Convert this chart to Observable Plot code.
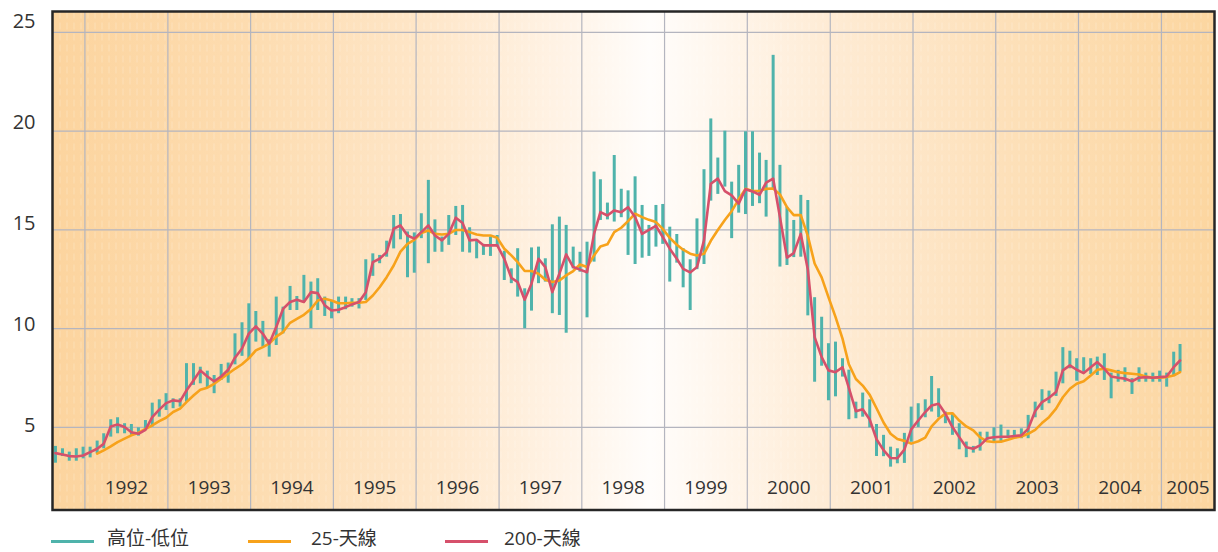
<!DOCTYPE html>
<html>
<head>
<meta charset="utf-8">
<script src="https://cdn.jsdelivr.net/npm/d3@7"></script>
<script src="https://cdn.jsdelivr.net/npm/@observablehq/plot@0.6"></script>
<style>
  html, body { margin: 0; padding: 0; background: #fff; }
  #wrap { position: relative; width: 1218px; height: 552px; font-family: "Open Sans", "Noto Sans", "Noto Sans CJK TC", sans-serif; color: #333; }
  #chart svg { display: block; }
  .sw { position: absolute; top: 540px; width: 43px; height: 3px; }
  .lt { position: absolute; top: 528px; height: 20px; font-size: 19px; line-height: 20px; white-space: nowrap; font-family: "Open Sans", "Noto Sans CJK TC", sans-serif; color: #333; }
</style>
</head>
<body>
<div id="wrap">
  <div id="chart"></div>
  <div class="sw" style="left:51px;background:#4fb3ab"></div><div class="lt" style="left:107px">高位-低位</div>
  <div class="sw" style="left:248px;background:#f7a21b"></div><div class="lt" style="left:311px">25-天線</div>
  <div class="sw" style="left:445px;background:#d6506b"></div><div class="lt" style="left:504px">200-天線</div>
</div>
<script>
// Monthly high / low (first bar Aug 1991, last bar Apr 2005)
const high = [4.04,3.92,3.75,3.92,4.0,4.0,4.31,4.68,5.39,5.49,5.19,5.15,4.98,5.35,6.23,6.40,6.71,6.45,6.45,8.23,
8.23,8.05,7.85,7.63,8.19,8.26,9.74,10.3,11.26,10.87,10.37,9.44,11.6,11.09,12.14,11.63,12.70,12.36,12.53,11.6,
11.43,11.6,11.6,11.52,11.52,13.49,13.79,13.71,14.43,15.73,15.78,14.9,14.85,15.82,17.51,15.51,14.64,15.73,16.19,16.24,
15.11,14.5,14.27,14.64,14.72,13.92,13.03,14.05,12.02,14.09,14.13,13.54,15.26,15.65,15.23,14.13,13.87,14.38,17.93,17.54,
16.36,18.77,17.06,16.98,17.69,16.24,15.23,16.24,16.29,15.14,14.77,14.05,13.49,15.56,18.05,20.62,18.64,20.0,17.42,18.27,
19.97,19.97,18.89,18.52,23.84,18.27,16.15,15.48,16.75,16.49,11.57,10.58,9.24,9.32,8.48,7.9,6.28,6.74,6.4,5.15,
4.6,4.0,3.92,4.7,6.03,6.2,6.4,7.58,6.96,5.78,5.66,5.19,4.26,4.04,4.76,4.76,4.98,5.12,4.86,4.85,
4.93,5.61,6.28,6.91,6.84,7.8,9.04,8.86,8.48,8.53,8.48,8.56,8.73,7.75,7.89,8.02,7.47,8.02,7.75,7.75,
7.85,7.75,8.81,9.2];
const low = [3.19,3.53,3.29,3.29,3.41,3.46,3.67,3.92,4.51,4.68,4.68,4.6,4.56,4.85,5.02,5.52,5.86,5.95,6.03,6.28,
7.13,7.21,7.0,6.71,7.38,7.24,8.17,8.6,8.45,9.32,9.07,8.56,9.15,9.74,10.92,10.92,11.35,10.0,10.92,10.62,
10.5,10.76,10.96,11.09,11.0,11.43,12.65,13.29,13.62,14.04,14.5,12.58,12.81,14.56,13.29,13.87,13.87,14.22,14.72,13.87,
13.83,13.54,13.71,13.66,14.13,12.44,12.28,11.6,10.0,10.89,12.28,12.36,10.76,10.67,9.77,13.03,12.86,10.55,13.37,15.48,
15.51,15.4,15.62,13.71,13.25,13.57,13.66,14.13,14.27,12.36,13.32,12.07,10.92,12.99,13.25,16.46,16.8,17.17,14.56,15.85,
15.78,16.19,16.33,15.65,17.08,13.12,13.2,13.6,13.62,10.65,7.29,8.1,6.35,6.55,7.55,5.39,5.44,5.52,4.98,3.53,
3.52,2.99,3.16,3.18,4.25,5.0,5.49,5.78,5.49,5.19,4.6,3.87,3.47,3.7,3.8,4.35,4.28,4.25,4.43,4.45,
4.43,4.43,5.49,5.86,6.2,6.57,7.21,7.97,7.34,7.8,7.68,7.63,7.38,6.45,7.29,7.29,6.67,7.29,7.29,7.29,
7.29,7.04,7.63,7.8];
// 25-天線 (orange)
const ma25 = [null,null,null,null,null,null,3.67,3.84,4.04,4.26,4.43,4.6,4.73,4.93,5.1,5.32,5.49,5.78,5.95,6.28,
6.62,6.91,7.01,7.21,7.47,7.72,7.97,8.2,8.5,8.9,9.07,9.24,9.6,9.83,10.3,10.5,10.7,11.0,11.43,11.52,
11.43,11.29,11.29,11.31,11.31,11.35,11.68,12.1,12.61,13.2,13.9,14.3,14.5,14.85,14.97,14.8,14.77,14.8,15.0,15.0,
14.89,14.77,14.72,14.72,14.6,14.05,13.71,13.37,12.92,12.92,12.78,12.48,12.36,12.44,12.7,12.92,13.25,13.12,13.71,14.16,
14.27,14.89,15.11,15.45,15.82,15.65,15.51,15.4,15.05,14.6,14.25,14.0,13.8,13.71,13.79,14.45,15.0,15.5,15.95,16.55,
17.08,16.97,16.97,17.08,17.1,16.8,16.15,15.75,15.75,14.7,13.3,12.6,11.6,10.6,9.5,8.2,7.45,7.12,6.65,5.97,
5.25,4.68,4.41,4.32,4.18,4.3,4.48,5.05,5.44,5.7,5.72,5.35,5.05,4.85,4.5,4.3,4.26,4.28,4.38,4.48,
4.54,4.68,4.88,5.22,5.52,5.95,6.53,6.96,7.21,7.34,7.63,7.92,7.97,7.89,7.8,7.75,7.72,7.68,7.58,7.52,
7.52,7.55,7.63,7.8];
// 200-天線 (red)
const ma200 = [3.7,3.63,3.55,3.53,3.58,3.75,3.92,4.17,5.05,5.15,5.02,4.76,4.68,4.88,5.52,5.9,6.23,6.37,6.33,6.87,
7.38,7.89,7.58,7.34,7.58,7.92,8.53,9.0,9.75,10.12,9.74,9.24,10.08,11.0,11.35,11.47,11.35,11.85,11.8,11.18,
10.92,10.96,11.09,11.23,11.35,11.85,13.37,13.54,13.87,15.06,15.23,14.72,14.56,14.89,15.23,14.72,14.47,14.8,15.62,15.35,
14.47,14.5,14.22,14.22,14.22,13.54,12.58,12.36,11.47,12.28,13.54,13.12,11.85,12.78,13.76,13.12,12.99,12.86,14.8,15.9,
15.73,15.99,15.9,16.15,15.65,14.8,15.0,15.2,14.64,14.05,13.54,13.03,12.85,13.12,14.47,17.34,17.6,16.97,16.75,16.33,
17.06,16.95,16.78,17.4,17.6,15.65,13.6,13.83,14.8,13.0,9.57,8.56,7.89,7.8,8.05,7.0,5.82,5.92,5.4,4.4,
3.85,3.45,3.44,3.88,4.9,5.35,5.78,6.11,6.2,5.69,5.02,4.51,4.0,3.92,4.09,4.45,4.5,4.53,4.53,4.57,
4.6,4.93,5.83,6.28,6.5,6.79,7.89,8.14,7.92,7.75,8.05,8.31,7.97,7.58,7.52,7.47,7.34,7.52,7.55,7.52,
7.55,7.58,8.05,8.39];
const yTicks = [5, 10, 15, 20, 25];
const years = [1992,1993,1994,1995,1996,1997,1998,1999,2000,2001,2002,2003,2004,2005];

const TEAL = "#4fb3ab", ORANGE = "#f7a21b", RED = "#d6506b";

const dates = high.map((_, i) => new Date(Date.UTC(1991, 7 + i, 24)));
const data = dates.map((date, i) => ({date, high: high[i], low: low[i], ma25: ma25[i], ma200: ma200[i]}));
const x0 = new Date(Date.UTC(1991, 7, 11)), x1 = new Date(Date.UTC(2005, 7, 23));
const yearStarts = years.map(y => new Date(Date.UTC(y, 0, 1)));
const yearLabels = years.map(y => {
  const a = Math.max(Date.UTC(y, 0, 1), +x0), b = Math.min(Date.UTC(y + 1, 0, 1), +x1);
  return {year: y, date: new Date((a + b) / 2)};
});

// y tick labels sit progressively higher above their grid lines in the original
const yLabelMarks = yTicks.map(v => Plot.text([v], {
  y: d => d, text: d => String(d), frameAnchor: "left", textAnchor: "end",
  dx: -17, dy: -(1.9 + (v - 5) * 0.47), fontSize: 20, fill: "#333"
}));

const plot = Plot.plot({
  width: 1218, height: 520,
  marginTop: 11, marginBottom: 10.5, marginLeft: 52, marginRight: 4,
  x: {type: "utc", domain: [x0, x1], axis: null},
  y: {domain: [0.82, 26.06], axis: null},
  style: {fontFamily: "'Open Sans', 'Noto Sans', sans-serif", background: "transparent", overflow: "visible"},
  marks: [
    Plot.frame({fill: "url(#bg)"}),
    Plot.frame({fill: "url(#tex)"}),
    Plot.gridY(yTicks, {stroke: "#b4b5bf", strokeOpacity: 1, strokeWidth: 1.2}),
    Plot.gridX(yearStarts, {stroke: "#b4b5bf", strokeOpacity: 1, strokeWidth: 1.2}),
    Plot.ruleX(data, {x: "date", y1: "low", y2: "high", stroke: TEAL, strokeWidth: 3}),
    Plot.line(data, {x: "date", y: "ma25", stroke: ORANGE, strokeWidth: 2.6}),
    Plot.line(data, {x: "date", y: "ma200", stroke: RED, strokeWidth: 2.6}),
    ...yLabelMarks,
    Plot.text(yearLabels, {x: "date", text: d => String(d.year), frameAnchor: "bottom", dy: -16, fontSize: 19, fill: "#333"}),
    Plot.frame({stroke: "#262626", strokeWidth: 2.5})
  ]
});

const defs = document.createElementNS("http://www.w3.org/2000/svg", "defs");
defs.innerHTML = `
<linearGradient id="bg" x1="0" x2="1" y1="0" y2="0">
  <stop offset="0" stop-color="#fcd49e"/>
  <stop offset="0.17" stop-color="#fddcb0"/>
  <stop offset="0.32" stop-color="#fee6c8"/>
  <stop offset="0.44" stop-color="#fff3e6"/>
  <stop offset="0.515" stop-color="#fffdfb"/>
  <stop offset="0.575" stop-color="#fff6ec"/>
  <stop offset="0.67" stop-color="#feebd4"/>
  <stop offset="0.82" stop-color="#fde0b9"/>
  <stop offset="1" stop-color="#fcd6a0"/>
</linearGradient>
<pattern id="tex" width="7" height="11" patternUnits="userSpaceOnUse">
  <rect x="3" y="0" width="1" height="7" fill="#ffffff" fill-opacity="0.22"/>
</pattern>`;
plot.insertBefore(defs, plot.firstChild);
document.getElementById("chart").appendChild(plot);
</script>
</body>
</html>
